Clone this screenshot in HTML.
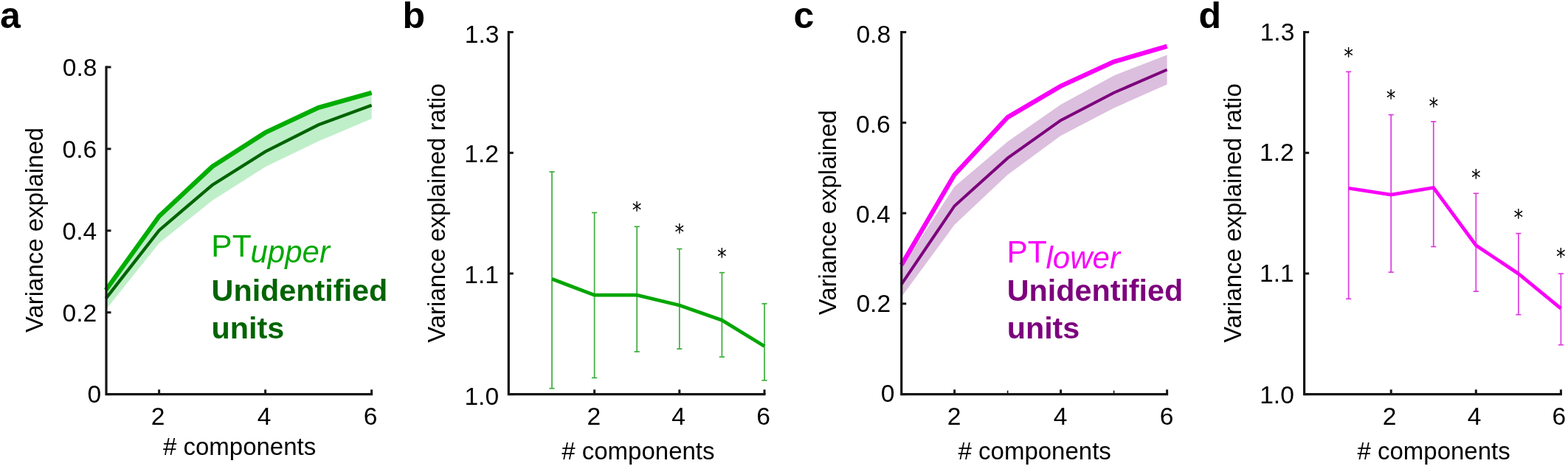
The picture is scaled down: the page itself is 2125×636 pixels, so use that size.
<!DOCTYPE html>
<html><head><meta charset="utf-8"><title>Variance explained</title>
<style>
html,body{margin:0;padding:0;background:#fff;}
body{width:2125px;height:636px;overflow:hidden;}
svg{display:block;font-family:"Liberation Sans", Arial, Helvetica, sans-serif;}
</style></head>
<body>
<svg width="2125" height="636" viewBox="0 0 2125 636">
<rect width="2125" height="636" fill="#fff"/>
<polygon points="143.60,389.50 215.60,293.20 287.60,226.00 359.60,179.80 431.60,146.00 503.60,124.60 503.60,161.00 431.60,191.50 359.60,226.20 287.60,272.00 215.60,329.80 143.60,419.70" fill="#bfefc9" stroke="none"/>
<polyline points="143.60,404.60 215.60,312.40 287.60,251.00 359.60,205.60 431.60,169.30 503.60,142.80" fill="none" stroke="#006400" stroke-width="4.3" stroke-linejoin="miter" stroke-miterlimit="10" stroke-linecap="butt"/>
<polyline points="143.60,393.30 215.60,293.20 287.60,226.00 359.60,179.80 431.60,146.00 503.60,125.70" fill="none" stroke="#00ad00" stroke-width="6.2" stroke-linejoin="miter" stroke-miterlimit="10" stroke-linecap="butt"/>
<path d="M144.00,89.50 V534.60 H505.10" fill="none" stroke="#161616" stroke-width="3.2" stroke-linejoin="miter"/>
<line x1="144.00" y1="534.60" x2="150.50" y2="534.60" stroke="#161616" stroke-width="3.0" stroke-linecap="butt"/>
<line x1="144.00" y1="423.70" x2="150.50" y2="423.70" stroke="#161616" stroke-width="3.0" stroke-linecap="butt"/>
<line x1="144.00" y1="312.80" x2="150.50" y2="312.80" stroke="#161616" stroke-width="3.0" stroke-linecap="butt"/>
<line x1="144.00" y1="201.90" x2="150.50" y2="201.90" stroke="#161616" stroke-width="3.0" stroke-linecap="butt"/>
<line x1="144.00" y1="91.00" x2="150.50" y2="91.00" stroke="#161616" stroke-width="3.0" stroke-linecap="butt"/>
<line x1="215.60" y1="534.60" x2="215.60" y2="528.30" stroke="#161616" stroke-width="3.0" stroke-linecap="butt"/>
<line x1="359.60" y1="534.60" x2="359.60" y2="528.30" stroke="#161616" stroke-width="3.0" stroke-linecap="butt"/>
<line x1="503.60" y1="534.60" x2="503.60" y2="528.30" stroke="#161616" stroke-width="3.0" stroke-linecap="butt"/>
<text x="108.10" y="103.40" font-size="33.6" text-anchor="middle" >0.8</text>
<text x="107.90" y="214.05" font-size="33.6" text-anchor="middle" >0.6</text>
<text x="107.90" y="325.10" font-size="33.6" text-anchor="middle" >0.4</text>
<text x="107.90" y="435.55" font-size="33.6" text-anchor="middle" >0.2</text>
<text x="127.80" y="546.20" font-size="33.6" text-anchor="middle" >0</text>
<text x="214.20" y="576.30" font-size="33.6" text-anchor="middle" >2</text>
<text x="358.00" y="576.30" font-size="33.6" text-anchor="middle" >4</text>
<text x="502.10" y="576.30" font-size="33.6" text-anchor="middle" >6</text>
<text x="324.60" y="617.40" font-size="33" text-anchor="middle" ># components</text>
<text x="57.60" y="312.00" font-size="33" text-anchor="middle" transform="rotate(-90 57.6 312)">Variance explained</text>
<text x="286.30" y="347.70" font-size="42.5" fill="#00a800" >PT</text>
<text x="339.50" y="356.20" font-size="42" fill="#00a800" font-style="italic">upper</text>
<text x="286.60" y="407.50" font-size="41.3" font-weight="bold" fill="#006400" >Unidentified</text>
<text x="286.60" y="459.20" font-size="41.3" font-weight="bold" fill="#006400" >units</text>
<text x="0.00" y="38.00" font-size="50" font-weight="bold" >a</text>
<line x1="748.00" y1="233.00" x2="748.00" y2="526.70" stroke="#3cae3c" stroke-width="1.7" stroke-linecap="butt"/>
<line x1="744.40" y1="233.00" x2="751.60" y2="233.00" stroke="#3cae3c" stroke-width="1.7" stroke-linecap="butt"/>
<line x1="744.40" y1="526.70" x2="751.60" y2="526.70" stroke="#3cae3c" stroke-width="1.7" stroke-linecap="butt"/>
<line x1="805.60" y1="288.40" x2="805.60" y2="512.40" stroke="#3cae3c" stroke-width="1.7" stroke-linecap="butt"/>
<line x1="802.00" y1="288.40" x2="809.20" y2="288.40" stroke="#3cae3c" stroke-width="1.7" stroke-linecap="butt"/>
<line x1="802.00" y1="512.40" x2="809.20" y2="512.40" stroke="#3cae3c" stroke-width="1.7" stroke-linecap="butt"/>
<line x1="863.20" y1="307.30" x2="863.20" y2="476.90" stroke="#3cae3c" stroke-width="1.7" stroke-linecap="butt"/>
<line x1="859.60" y1="307.30" x2="866.80" y2="307.30" stroke="#3cae3c" stroke-width="1.7" stroke-linecap="butt"/>
<line x1="859.60" y1="476.90" x2="866.80" y2="476.90" stroke="#3cae3c" stroke-width="1.7" stroke-linecap="butt"/>
<line x1="920.80" y1="337.50" x2="920.80" y2="473.10" stroke="#3cae3c" stroke-width="1.7" stroke-linecap="butt"/>
<line x1="917.20" y1="337.50" x2="924.40" y2="337.50" stroke="#3cae3c" stroke-width="1.7" stroke-linecap="butt"/>
<line x1="917.20" y1="473.10" x2="924.40" y2="473.10" stroke="#3cae3c" stroke-width="1.7" stroke-linecap="butt"/>
<line x1="978.40" y1="369.70" x2="978.40" y2="484.00" stroke="#3cae3c" stroke-width="1.7" stroke-linecap="butt"/>
<line x1="974.80" y1="369.70" x2="982.00" y2="369.70" stroke="#3cae3c" stroke-width="1.7" stroke-linecap="butt"/>
<line x1="974.80" y1="484.00" x2="982.00" y2="484.00" stroke="#3cae3c" stroke-width="1.7" stroke-linecap="butt"/>
<line x1="1036.00" y1="411.80" x2="1036.00" y2="515.80" stroke="#3cae3c" stroke-width="1.7" stroke-linecap="butt"/>
<line x1="1032.40" y1="411.80" x2="1039.60" y2="411.80" stroke="#3cae3c" stroke-width="1.7" stroke-linecap="butt"/>
<line x1="1032.40" y1="515.80" x2="1039.60" y2="515.80" stroke="#3cae3c" stroke-width="1.7" stroke-linecap="butt"/>
<polyline points="748.00,378.30 805.60,400.20 863.20,400.20 920.80,414.00 978.40,434.20 1036.00,469.40" fill="none" stroke="#00a600" stroke-width="4.7" stroke-linejoin="miter" stroke-miterlimit="10" stroke-linecap="butt"/>
<text x="1003.72" y="295.28" font-size="29.5" text-anchor="middle" font-family="DejaVu Sans, sans-serif" transform="scale(0.86,1)">*</text>
<text x="1070.70" y="325.18" font-size="29.5" text-anchor="middle" font-family="DejaVu Sans, sans-serif" transform="scale(0.86,1)">*</text>
<text x="1137.67" y="358.38" font-size="29.5" text-anchor="middle" font-family="DejaVu Sans, sans-serif" transform="scale(0.86,1)">*</text>
<path d="M689.30,42.10 V534.60 H1037.50" fill="none" stroke="#161616" stroke-width="3.2" stroke-linejoin="miter"/>
<line x1="689.30" y1="534.60" x2="695.80" y2="534.60" stroke="#161616" stroke-width="3.0" stroke-linecap="butt"/>
<line x1="689.30" y1="370.93" x2="695.80" y2="370.93" stroke="#161616" stroke-width="3.0" stroke-linecap="butt"/>
<line x1="689.30" y1="207.27" x2="695.80" y2="207.27" stroke="#161616" stroke-width="3.0" stroke-linecap="butt"/>
<line x1="689.30" y1="43.60" x2="695.80" y2="43.60" stroke="#161616" stroke-width="3.0" stroke-linecap="butt"/>
<line x1="805.60" y1="534.60" x2="805.60" y2="528.30" stroke="#161616" stroke-width="3.0" stroke-linecap="butt"/>
<line x1="920.80" y1="534.60" x2="920.80" y2="528.30" stroke="#161616" stroke-width="3.0" stroke-linecap="butt"/>
<line x1="1036.00" y1="534.60" x2="1036.00" y2="528.30" stroke="#161616" stroke-width="3.0" stroke-linecap="butt"/>
<text x="653.05" y="58.10" font-size="33.6" text-anchor="middle" >1.3</text>
<text x="652.65" y="219.95" font-size="33.6" text-anchor="middle" >1.2</text>
<text x="652.65" y="384.05" font-size="33.6" text-anchor="middle" >1.1</text>
<text x="652.75" y="549.05" font-size="33.6" text-anchor="middle" >1.0</text>
<text x="804.75" y="576.30" font-size="33.6" text-anchor="middle" >2</text>
<text x="919.65" y="576.30" font-size="33.6" text-anchor="middle" >4</text>
<text x="1034.70" y="576.30" font-size="33.6" text-anchor="middle" >6</text>
<text x="864.90" y="623.20" font-size="33" text-anchor="middle" ># components</text>
<text x="603.40" y="289.00" font-size="33" text-anchor="middle" transform="rotate(-90 603.4 289)">Variance explained ratio</text>
<text x="545.50" y="38.00" font-size="50" font-weight="bold" >b</text>
<polygon points="1221.60,363.00 1293.60,252.90 1365.60,191.90 1437.60,141.70 1509.60,102.40 1581.60,74.60 1581.60,114.40 1509.60,146.50 1437.60,184.10 1365.60,236.90 1293.60,304.80 1221.60,402.70" fill="#dcbfde" stroke="none"/>
<polyline points="1221.60,385.70 1293.60,279.20 1365.60,214.40 1437.60,163.20 1509.60,125.70 1581.60,94.50" fill="none" stroke="#7d007d" stroke-width="4.0" stroke-linejoin="miter" stroke-miterlimit="10" stroke-linecap="butt"/>
<polyline points="1221.60,359.40 1293.60,236.80 1365.60,159.00 1437.60,116.80 1509.60,83.70 1581.60,62.80" fill="none" stroke="#f800f8" stroke-width="6.2" stroke-linejoin="miter" stroke-miterlimit="10" stroke-linecap="butt"/>
<path d="M1221.70,42.10 V534.60 H1583.10" fill="none" stroke="#161616" stroke-width="3.2" stroke-linejoin="miter"/>
<line x1="1221.70" y1="534.60" x2="1228.20" y2="534.60" stroke="#161616" stroke-width="3.0" stroke-linecap="butt"/>
<line x1="1221.70" y1="411.85" x2="1228.20" y2="411.85" stroke="#161616" stroke-width="3.0" stroke-linecap="butt"/>
<line x1="1221.70" y1="289.10" x2="1228.20" y2="289.10" stroke="#161616" stroke-width="3.0" stroke-linecap="butt"/>
<line x1="1221.70" y1="166.35" x2="1228.20" y2="166.35" stroke="#161616" stroke-width="3.0" stroke-linecap="butt"/>
<line x1="1221.70" y1="43.60" x2="1228.20" y2="43.60" stroke="#161616" stroke-width="3.0" stroke-linecap="butt"/>
<line x1="1293.60" y1="534.60" x2="1293.60" y2="528.30" stroke="#161616" stroke-width="3.0" stroke-linecap="butt"/>
<line x1="1437.60" y1="534.60" x2="1437.60" y2="528.30" stroke="#161616" stroke-width="3.0" stroke-linecap="butt"/>
<line x1="1581.60" y1="534.60" x2="1581.60" y2="528.30" stroke="#161616" stroke-width="3.0" stroke-linecap="butt"/>
<line x1="1365.60" y1="534.60" x2="1365.60" y2="529.60" stroke="#161616" stroke-width="1.6" stroke-linecap="butt"/>
<line x1="1509.60" y1="534.60" x2="1509.60" y2="529.60" stroke="#161616" stroke-width="1.6" stroke-linecap="butt"/>
<text x="1183.75" y="58.40" font-size="33.6" text-anchor="middle" >0.8</text>
<text x="1183.45" y="180.00" font-size="33.6" text-anchor="middle" >0.6</text>
<text x="1183.30" y="301.65" font-size="33.6" text-anchor="middle" >0.4</text>
<text x="1183.75" y="423.40" font-size="33.6" text-anchor="middle" >0.2</text>
<text x="1203.15" y="545.00" font-size="33.6" text-anchor="middle" >0</text>
<text x="1293.05" y="576.30" font-size="33.6" text-anchor="middle" >2</text>
<text x="1437.00" y="576.30" font-size="33.6" text-anchor="middle" >4</text>
<text x="1581.00" y="576.30" font-size="33.6" text-anchor="middle" >6</text>
<text x="1402.20" y="623.20" font-size="33" text-anchor="middle" ># components</text>
<text x="1132.90" y="288.20" font-size="33" text-anchor="middle" transform="rotate(-90 1132.9 288.2)">Variance explained</text>
<text x="1364.40" y="355.70" font-size="42.5" fill="#f800f8" >PT</text>
<text x="1417.50" y="363.50" font-size="42" fill="#f800f8" font-style="italic">lower</text>
<text x="1364.70" y="407.60" font-size="41.3" font-weight="bold" fill="#7d007d" >Unidentified</text>
<text x="1364.70" y="458.60" font-size="41.3" font-weight="bold" fill="#7d007d" >units</text>
<text x="1075.50" y="38.00" font-size="50" font-weight="bold" >c</text>
<line x1="1827.65" y1="97.30" x2="1827.65" y2="405.30" stroke="#dc3ce0" stroke-width="1.7" stroke-linecap="butt"/>
<line x1="1824.05" y1="97.30" x2="1831.25" y2="97.30" stroke="#dc3ce0" stroke-width="1.7" stroke-linecap="butt"/>
<line x1="1824.05" y1="405.30" x2="1831.25" y2="405.30" stroke="#dc3ce0" stroke-width="1.7" stroke-linecap="butt"/>
<line x1="1885.20" y1="155.60" x2="1885.20" y2="369.10" stroke="#dc3ce0" stroke-width="1.7" stroke-linecap="butt"/>
<line x1="1881.60" y1="155.60" x2="1888.80" y2="155.60" stroke="#dc3ce0" stroke-width="1.7" stroke-linecap="butt"/>
<line x1="1881.60" y1="369.10" x2="1888.80" y2="369.10" stroke="#dc3ce0" stroke-width="1.7" stroke-linecap="butt"/>
<line x1="1942.75" y1="164.90" x2="1942.75" y2="334.50" stroke="#dc3ce0" stroke-width="1.7" stroke-linecap="butt"/>
<line x1="1939.15" y1="164.90" x2="1946.35" y2="164.90" stroke="#dc3ce0" stroke-width="1.7" stroke-linecap="butt"/>
<line x1="1939.15" y1="334.50" x2="1946.35" y2="334.50" stroke="#dc3ce0" stroke-width="1.7" stroke-linecap="butt"/>
<line x1="2000.30" y1="262.30" x2="2000.30" y2="395.20" stroke="#dc3ce0" stroke-width="1.7" stroke-linecap="butt"/>
<line x1="1996.70" y1="262.30" x2="2003.90" y2="262.30" stroke="#dc3ce0" stroke-width="1.7" stroke-linecap="butt"/>
<line x1="1996.70" y1="395.20" x2="2003.90" y2="395.20" stroke="#dc3ce0" stroke-width="1.7" stroke-linecap="butt"/>
<line x1="2057.85" y1="316.60" x2="2057.85" y2="426.70" stroke="#dc3ce0" stroke-width="1.7" stroke-linecap="butt"/>
<line x1="2054.25" y1="316.60" x2="2061.45" y2="316.60" stroke="#dc3ce0" stroke-width="1.7" stroke-linecap="butt"/>
<line x1="2054.25" y1="426.70" x2="2061.45" y2="426.70" stroke="#dc3ce0" stroke-width="1.7" stroke-linecap="butt"/>
<line x1="2115.40" y1="371.10" x2="2115.40" y2="467.70" stroke="#dc3ce0" stroke-width="1.7" stroke-linecap="butt"/>
<line x1="2111.80" y1="371.10" x2="2119.00" y2="371.10" stroke="#dc3ce0" stroke-width="1.7" stroke-linecap="butt"/>
<line x1="2111.80" y1="467.70" x2="2119.00" y2="467.70" stroke="#dc3ce0" stroke-width="1.7" stroke-linecap="butt"/>
<polyline points="1827.65,255.20 1885.20,264.00 1942.75,254.50 2000.30,332.70 2057.85,371.20 2115.40,418.40" fill="none" stroke="#f800f8" stroke-width="4.7" stroke-linejoin="miter" stroke-miterlimit="10" stroke-linecap="butt"/>
<text x="2125.17" y="86.48" font-size="29.5" text-anchor="middle" font-family="DejaVu Sans, sans-serif" transform="scale(0.86,1)">*</text>
<text x="2192.09" y="143.08" font-size="29.5" text-anchor="middle" font-family="DejaVu Sans, sans-serif" transform="scale(0.86,1)">*</text>
<text x="2259.01" y="153.88" font-size="29.5" text-anchor="middle" font-family="DejaVu Sans, sans-serif" transform="scale(0.86,1)">*</text>
<text x="2325.93" y="251.08" font-size="29.5" text-anchor="middle" font-family="DejaVu Sans, sans-serif" transform="scale(0.86,1)">*</text>
<text x="2392.85" y="304.58" font-size="29.5" text-anchor="middle" font-family="DejaVu Sans, sans-serif" transform="scale(0.86,1)">*</text>
<text x="2459.77" y="357.98" font-size="29.5" text-anchor="middle" font-family="DejaVu Sans, sans-serif" transform="scale(0.86,1)">*</text>
<path d="M1767.60,42.10 V534.60 H2116.90" fill="none" stroke="#161616" stroke-width="3.2" stroke-linejoin="miter"/>
<line x1="1767.60" y1="534.60" x2="1774.10" y2="534.60" stroke="#161616" stroke-width="3.0" stroke-linecap="butt"/>
<line x1="1767.60" y1="370.93" x2="1774.10" y2="370.93" stroke="#161616" stroke-width="3.0" stroke-linecap="butt"/>
<line x1="1767.60" y1="207.27" x2="1774.10" y2="207.27" stroke="#161616" stroke-width="3.0" stroke-linecap="butt"/>
<line x1="1767.60" y1="43.60" x2="1774.10" y2="43.60" stroke="#161616" stroke-width="3.0" stroke-linecap="butt"/>
<line x1="1885.20" y1="534.60" x2="1885.20" y2="528.30" stroke="#161616" stroke-width="3.0" stroke-linecap="butt"/>
<line x1="2000.30" y1="534.60" x2="2000.30" y2="528.30" stroke="#161616" stroke-width="3.0" stroke-linecap="butt"/>
<line x1="2115.40" y1="534.60" x2="2115.40" y2="528.30" stroke="#161616" stroke-width="3.0" stroke-linecap="butt"/>
<text x="1731.00" y="55.45" font-size="33.6" text-anchor="middle" >1.3</text>
<text x="1730.30" y="217.70" font-size="33.6" text-anchor="middle" >1.2</text>
<text x="1730.30" y="381.75" font-size="33.6" text-anchor="middle" >1.1</text>
<text x="1730.50" y="546.75" font-size="33.6" text-anchor="middle" >1.0</text>
<text x="1883.20" y="576.30" font-size="33.6" text-anchor="middle" >2</text>
<text x="1998.00" y="576.30" font-size="33.6" text-anchor="middle" >4</text>
<text x="2112.90" y="576.30" font-size="33.6" text-anchor="middle" >6</text>
<text x="1943.10" y="623.20" font-size="33" text-anchor="middle" ># components</text>
<text x="1681.60" y="289.00" font-size="33" text-anchor="middle" transform="rotate(-90 1681.6 289)">Variance explained ratio</text>
<text x="1624.50" y="38.00" font-size="50" font-weight="bold" >d</text>
</svg>
</body></html>
